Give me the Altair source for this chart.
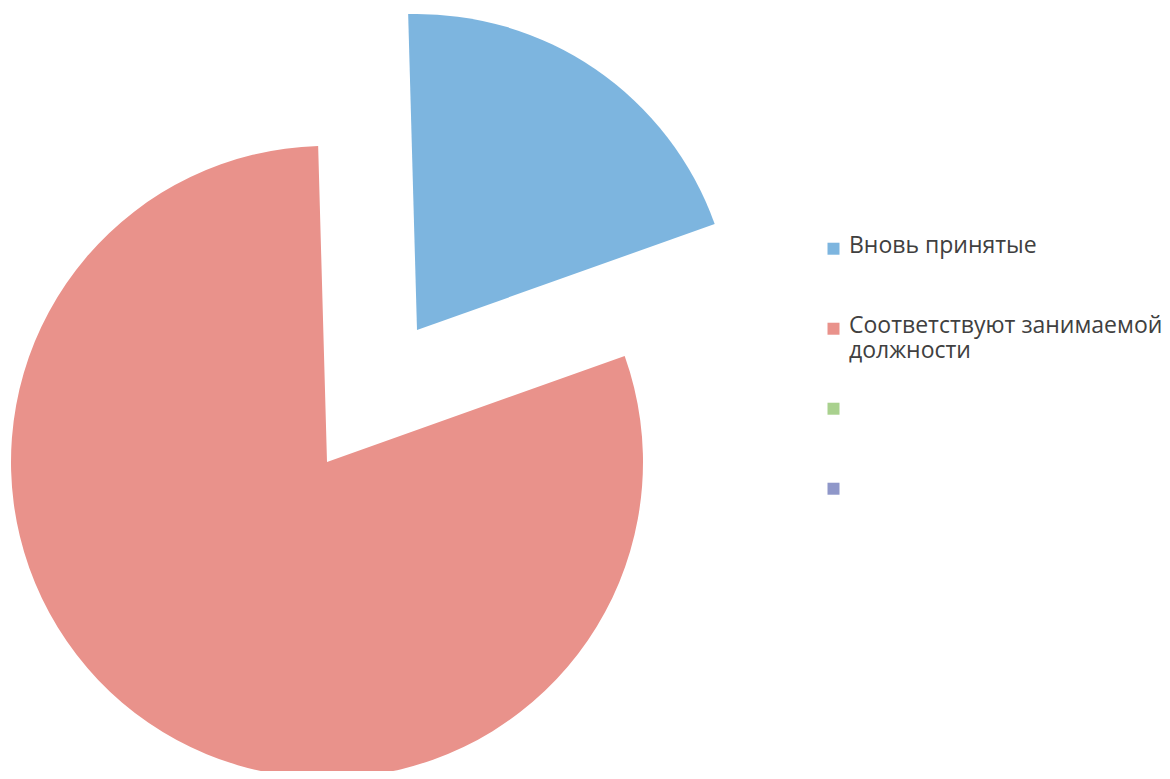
import altair as alt
import pandas as pd
import math

categories = ["Вновь принятые", "Соответствуют занимаемой должности", "Кв3", "Кв4"]
values = [20, 80, 0, 0]
order = [1, 2, 3, 4]
colors = ["#7db5df", "#e9928b", "#a9d18e", "#8f97c9"]

df = pd.DataFrame({"cat": categories, "value": values, "order": order})

rot = -0.028
theta_scale = alt.Scale(domain=[0, 100], range=[rot, 2 * math.pi + rot])

color = alt.Color(
    "cat:N",
    scale=alt.Scale(domain=categories, range=colors),
    sort=categories,
    legend=alt.Legend(
        title=None,
        orient="none",
        legendX=814,
        legendY=215,
        symbolType="M-1,1.37H1V3.37H-1Z",
        symbolSize=144,
        symbolStrokeWidth=0,
        labelFont="Open Sans",
        labelFontSize=23,
        labelColor="#404040",
        labelLimit=400,
        rowPadding=20,
        labelOffset=4,
        labelBaseline="top",
        labelExpr=(
            "datum.label == 'Соответствуют занимаемой должности' ? ['Соответствуют занимаемой', 'должности'] : "
            "(datum.label == 'Вновь принятые' ? [datum.label, ''] : ['', ''])"
        ),
    ),
)

base = (
    alt.Chart(df)
    .transform_window(cum="sum(value)", sort=[alt.SortField("order")], frame=[None, 0])
    .transform_calculate(start="datum.cum - datum.value")
)

blue = base.transform_filter(alt.datum.cat == categories[0]).mark_arc(radius=316).encode(
    theta=alt.Theta("start:Q", scale=theta_scale),
    theta2="cum:Q",
    color=color,
    x=alt.value(409),
    y=alt.value(322),
)
red = base.transform_filter(alt.datum.cat == categories[1]).mark_arc(radius=316).encode(
    theta=alt.Theta("start:Q", scale=theta_scale),
    theta2="cum:Q",
    color=color,
    x=alt.value(319),
    y=alt.value(454),
)
legend_src = base.mark_arc(radius=0, opacity=0).encode(
    theta=alt.Theta("start:Q", scale=theta_scale),
    theta2="cum:Q",
    color=color,
)

chart = (
    alt.layer(red, blue, legend_src)
    .properties(width=1154, height=763, padding=0, autosize=alt.AutoSizeParams(type="none"))
    .configure_view(stroke=None)
)

chart.save("out.html", embed_options={"renderer": "svg", "actions": False})
